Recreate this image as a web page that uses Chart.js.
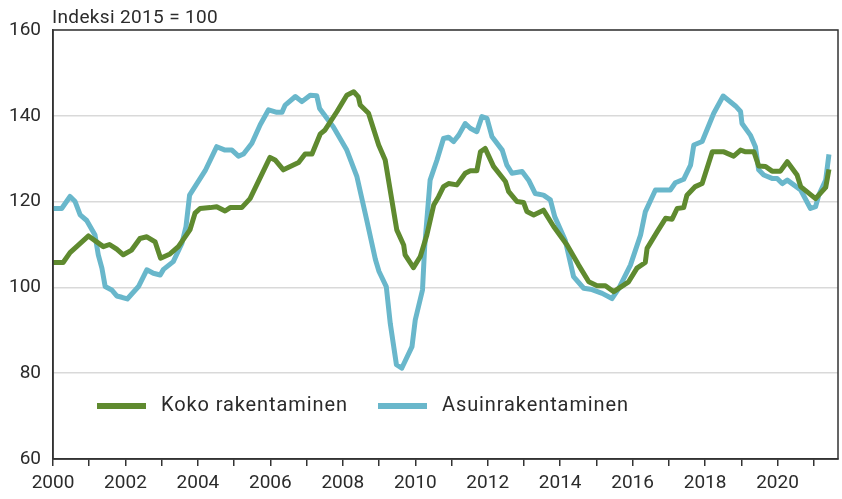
<!DOCTYPE html>
<html>
<head>
<meta charset="utf-8">
<script src="https://cdn.jsdelivr.net/npm/chart.js@4"></script>
<style>
html,body{margin:0;padding:0;background:#fff;}
canvas{display:block;}
</style>
</head>
<body>
<canvas id="c" width="842" height="499"></canvas>
<script>
// Series labels
const seriesNames = ["Koko rakentaminen", "Asuinrakentaminen"];
const yAxisTitle = "Indeksi 2015 = 100";

// Koko rakentaminen (green): time (decimal year) and index value
const kokoX = [2000.00,2000.28,2000.47,2000.98,2001.39,2001.56,2001.76,2001.94,2002.17,2002.40,2002.59,2002.82,2002.97,2003.23,2003.46,2003.78,2003.92,2004.06,2004.34,2004.52,2004.75,2004.89,2005.21,2005.44,2005.99,2006.13,2006.36,2006.78,2006.96,2007.15,2007.38,2007.51,2007.84,2008.11,2008.30,2008.43,2008.48,2008.71,2008.99,2009.17,2009.49,2009.68,2009.72,2009.95,2010.14,2010.32,2010.51,2010.64,2010.78,2010.92,2011.15,2011.38,2011.52,2011.70,2011.80,2011.93,2012.16,2012.49,2012.58,2012.81,2012.99,2013.08,2013.27,2013.54,2013.82,2014.19,2014.51,2014.79,2015.02,2015.25,2015.48,2015.89,2016.12,2016.35,2016.40,2016.68,2016.91,2017.09,2017.23,2017.41,2017.50,2017.73,2017.92,2018.20,2018.52,2018.79,2018.98,2019.12,2019.35,2019.48,2019.67,2019.85,2020.08,2020.27,2020.54,2020.64,2021.05,2021.33,2021.42];
const kokoY = [105.8,105.8,108.1,112.0,109.5,110.0,108.9,107.6,108.7,111.4,111.8,110.6,106.8,107.8,109.5,113.4,117.3,118.4,118.6,118.8,117.8,118.6,118.6,120.7,130.3,129.7,127.4,129.1,131.1,131.1,135.8,136.7,141.0,144.8,145.6,144.4,142.5,140.6,133.2,129.7,113.4,109.9,107.6,104.6,107.2,112.2,119.2,121.1,123.5,124.2,123.9,126.6,127.2,127.2,131.6,132.4,128.2,124.7,122.3,120.0,119.8,117.7,116.9,118.0,114.2,109.9,105.2,101.3,100.4,100.4,99.0,101.3,104.5,105.8,109.1,113.0,116.1,115.9,118.4,118.6,121.5,123.5,124.2,131.6,131.6,130.6,132.0,131.6,131.6,128.3,128.2,127.1,127.1,129.3,126.2,123.5,120.7,123.3,127.5];

// Asuinrakentaminen (blue)
const asuinX = [2000.00,2000.24,2000.47,2000.61,2000.75,2000.93,2001.16,2001.25,2001.35,2001.44,2001.62,2001.76,2001.90,2002.05,2002.36,2002.59,2002.77,2002.96,2003.05,2003.32,2003.56,2003.67,2003.77,2004.20,2004.52,2004.75,2004.94,2005.12,2005.26,2005.49,2005.72,2005.95,2006.18,2006.32,2006.41,2006.69,2006.87,2007.10,2007.28,2007.36,2007.74,2008.11,2008.39,2008.66,2008.90,2009.00,2009.20,2009.31,2009.48,2009.63,2009.91,2010.00,2010.20,2010.26,2010.41,2010.60,2010.78,2010.92,2011.06,2011.20,2011.38,2011.52,2011.70,2011.84,2011.98,2012.12,2012.40,2012.53,2012.67,2012.95,2013.13,2013.31,2013.54,2013.73,2013.85,2014.14,2014.37,2014.65,2014.88,2015.16,2015.43,2015.62,2015.94,2016.22,2016.35,2016.63,2017.04,2017.18,2017.41,2017.60,2017.69,2017.92,2018.24,2018.50,2018.84,2018.98,2019.02,2019.25,2019.39,2019.48,2019.62,2019.85,2019.99,2020.13,2020.27,2020.45,2020.64,2020.91,2021.05,2021.14,2021.33,2021.42];
const asuinY = [118.4,118.4,121.2,120.0,116.9,115.6,112.2,107.6,104.5,100.2,99.4,98.0,97.7,97.3,100.2,104.1,103.3,102.9,104.2,106.0,110.3,114.1,121.5,127.2,132.8,132.0,132.0,130.6,131.1,133.6,137.9,141.4,140.8,140.8,142.5,144.5,143.3,144.8,144.7,141.7,137.4,132.0,125.8,115.7,106.5,103.7,100.2,91.6,82.0,81.2,86.2,92.4,99.4,109.5,125.0,129.7,134.7,135.0,134.0,135.5,138.2,137.1,136.3,139.8,139.4,135.1,132.0,128.5,126.6,127.0,125.0,121.9,121.5,120.4,116.5,111.0,102.5,99.8,99.5,98.6,97.4,99.8,105.2,112.2,117.6,122.7,122.7,124.4,125.2,128.5,133.2,134.0,140.6,144.6,142.3,141.0,138.2,135.5,132.8,127.4,126.2,125.4,125.4,124.2,125.0,123.9,122.7,118.4,118.8,121.5,125.0,131.0];

// Axis ticks
const yearTicks = [2000,2001,2002,2003,2004,2005,2006,2007,2008,2009,2010,2011,2012,2013,2014,2015,2016,2017,2018,2019,2020,2021];
const yTicks = [60,80,100,120,140,160];

const GREEN = "#5f8a2f";
const BLUE = "#69b7cb";
const TEXT = "#2b2b2b";
const FONT = "Roboto";

const toPts = (xs, ys) => xs.map((x, i) => ({x: x, y: ys[i]}));

const frame = {
  id: "frame",
  afterDraw(chart) {
    const {ctx, chartArea: a} = chart;
    ctx.save();
    ctx.strokeStyle = "#333";
    ctx.lineWidth = 1.5;
    ctx.strokeRect(a.left, a.top, a.right - a.left, a.bottom - a.top);
    // title
    ctx.fillStyle = TEXT;
    ctx.font = "19px " + FONT;
    ctx.letterSpacing = "0.35px";
    ctx.textBaseline = "alphabetic";
    ctx.textAlign = "left";
    ctx.fillText(yAxisTitle, 52, 23);
    // legend
    const ly = 406;
    ctx.font = "20px " + FONT;
    ctx.letterSpacing = "0.9px";
    const items = [
      {x: 97, color: chart.data.datasets[0].borderColor, label: chart.data.datasets[0].label},
      {x: 378, color: chart.data.datasets[1].borderColor, label: chart.data.datasets[1].label}
    ];
    items.forEach(it => {
      ctx.strokeStyle = it.color;
      ctx.lineWidth = 6;
      ctx.beginPath();
      ctx.moveTo(it.x, ly);
      ctx.lineTo(it.x + 49, ly);
      ctx.stroke();
      ctx.fillStyle = TEXT;
      ctx.textBaseline = "middle";
      ctx.fillText(it.label, it.x + 64, ly);
    });
    ctx.letterSpacing = "0px";
    ctx.restore();
  }
};

new Chart(document.getElementById("c"), {
  type: "line",
  data: {
    datasets: [
      {label: seriesNames[0], data: toPts(kokoX, kokoY), borderColor: GREEN, borderWidth: 5, pointRadius: 0, tension: 0, fill: false, borderJoinStyle: "round"},
      {label: seriesNames[1], data: toPts(asuinX, asuinY), borderColor: BLUE, borderWidth: 5, pointRadius: 0, tension: 0, fill: false, borderJoinStyle: "round"}
    ]
  },
  options: {
    responsive: false,
    animation: false,
    devicePixelRatio: 1,
    layout: {padding: {top: 30, right: 4, left: 0, bottom: 0}},
    plugins: {legend: {display: false}, tooltip: {enabled: false}, title: {display: false}},
    scales: {
      x: {
        type: "linear",
        min: 2000,
        max: 2021.67,
        afterBuildTicks: s => { s.ticks = yearTicks.map(v => ({value: v})); },
        afterFit: s => { s.height = 40; },
        ticks: {
          autoSkip: false, maxRotation: 0, padding: 6,
          color: TEXT, font: {family: FONT, size: 19},
          callback: v => (v % 2 === 0 ? String(v) : "")
        },
        grid: {drawOnChartArea: false, drawTicks: true, tickLength: 7, color: "#333", lineWidth: 1.5},
        border: {display: true, color: "#333", width: 1.5}
      },
      y: {
        min: 60,
        max: 160,
        afterBuildTicks: s => { s.ticks = yTicks.map(v => ({value: v})); },
        afterFit: s => { s.width = 53; },
        ticks: {padding: 12, color: TEXT, font: {family: FONT, size: 19}},
        grid: {drawTicks: false, color: "#d9d9d9", lineWidth: 1.5},
        border: {display: true, color: "#333", width: 1.5}
      }
    }
  },
  plugins: [frame]
});
</script>
</body>
</html>
